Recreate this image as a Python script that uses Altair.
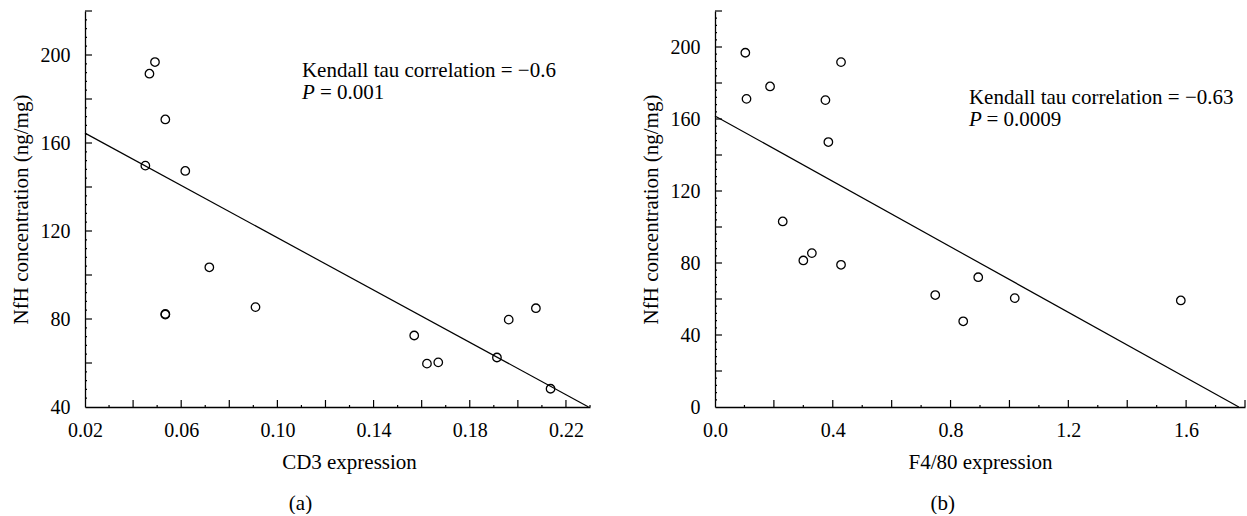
import altair as alt
import pandas as pd

FONT = "Liberation Serif"

# ---- Panel (a): CD3 expression vs NfH concentration ----
cd3_expr = [0.0451, 0.0468, 0.0491, 0.0534, 0.0534, 0.0534, 0.0617, 0.0717,
            0.0909, 0.1569, 0.1622, 0.1669, 0.1913, 0.1962, 0.2075, 0.2136]
cd3_nfh = [149.7, 191.5, 196.8, 170.7, 82.0, 82.3, 147.3, 103.5,
           85.4, 72.5, 59.7, 60.3, 62.5, 79.7, 84.9, 48.3]
fit_a_x = [0.02, 0.2294]
fit_a_y = [164.5, 40.0]

# ---- Panel (b): F4/80 expression vs NfH concentration ----
f480_expr = [0.103, 0.107, 0.187, 0.230, 0.300, 0.329, 0.375, 0.385,
             0.428, 0.428, 0.748, 0.843, 0.894, 1.018, 1.582]
f480_nfh = [196.8, 171.2, 178.1, 103.1, 81.4, 85.5, 170.5, 147.2,
            191.6, 79.0, 62.2, 47.6, 72.1, 60.5, 59.2]
fit_b_x = [0.0, 1.779]
fit_b_y = [161.7, 0.0]

# ---- axis tick values ----
x_labels_a = [0.02, 0.06, 0.10, 0.14, 0.18, 0.22]
y_labels_a = [40, 80, 120, 160, 200]
x_major_a = [0.04, 0.06, 0.08, 0.10, 0.12, 0.14, 0.16, 0.18, 0.20, 0.22]
x_minor_a = [0.03, 0.05, 0.07, 0.09, 0.11, 0.13, 0.15, 0.17, 0.19, 0.21, 0.23]
y_major_a = [60, 80, 100, 120, 140, 160, 180, 200, 220]
y_minor_a = [v for v in range(44, 220, 4) if v % 20 != 0]

x_labels_b = [0.0, 0.4, 0.8, 1.2, 1.6]
y_labels_b = [0, 40, 80, 120, 160, 200]
x_major_b = [0.2, 0.4, 0.6, 0.8, 1.0, 1.2, 1.4, 1.6, 1.8]
x_minor_b = [0.1, 0.3, 0.5, 0.7, 0.9, 1.1, 1.3, 1.5, 1.7]
y_major_b = [20, 40, 60, 80, 100, 120, 140, 160, 180, 200, 220]
y_minor_b = [v for v in range(4, 220, 4) if v % 20 != 0]

# ---- annotations (anchored in data coordinates) ----
ann_a_x = [0.1102, 0.1102, 0.1177]
ann_a_y = [190.2, 179.9, 179.9]
ann_a_text = ["Kendall tau correlation = \u22120.6", "P", "= 0.001"]
ann_b_x = [0.8625, 0.8625, 0.9220]
ann_b_y = [168.6, 155.9, 155.9]
ann_b_text = ["Kendall tau correlation = \u22120.63", "P", "= 0.0009"]
ann_style = ["normal", "italic", "normal"]

W_A, W_B, H = 505, 530, 396


def panel(xs_vals, ys_vals, fx, fy, xdom, ydom, xlabels, ylabels, xfmt,
          xmaj, xmin, ymaj, ymin, ann_x, ann_y, ann_text, xtitle, caption,
          width, title_x):
    xs = alt.Scale(domain=xdom, zero=False, nice=False)
    ys = alt.Scale(domain=ydom, zero=False, nice=False)
    common = dict(ticks=False, grid=False, domainColor="black", domainWidth=1.3,
                  labelFont=FONT, labelFontSize=20, labelColor="black",
                  labelFlush=False, labelOverlap=False, labelBound=False,
                  titleFont=FONT, titleFontSize=21, titleFontWeight="normal",
                  titleColor="black", titleBaseline="alphabetic")
    xaxis = alt.Axis(values=xlabels, format=xfmt, title=xtitle, labelPadding=13,
                     titleY=61.6, titleX=title_x, **common)
    yaxis = alt.Axis(values=ylabels, format="d", title="NfH concentration (ng/mg)",
                     labelPadding=15, titleX=-58, titleAngle=-90, **common)

    pts = alt.Chart(pd.DataFrame({"x": xs_vals, "y": ys_vals})).mark_point(
        shape="circle", filled=False, color="black", size=72, strokeWidth=1.3, opacity=1
    ).encode(x=alt.X("x:Q", scale=xs, axis=xaxis), y=alt.Y("y:Q", scale=ys, axis=yaxis))

    fit = alt.Chart(pd.DataFrame({"x": fx, "y": fy})).mark_line(
        color="black", strokeWidth=1.2
    ).encode(x=alt.X("x:Q", scale=xs), y=alt.Y("y:Q", scale=ys))

    def xticks(vals, length):
        return alt.Chart(pd.DataFrame({"x": vals})).mark_rule(
            color="black", strokeWidth=1.2
        ).encode(x=alt.X("x:Q", scale=xs),
                 y=alt.value(H), y2=alt.value(H - length))

    def yticks(vals, length):
        return alt.Chart(pd.DataFrame({"y": vals})).mark_rule(
            color="black", strokeWidth=1.2
        ).encode(y=alt.Y("y:Q", scale=ys),
                 x=alt.value(0), x2=alt.value(length))

    texts = []
    for tx, ty, tt, st in zip(ann_x, ann_y, ann_text, ann_style):
        texts.append(
            alt.Chart(pd.DataFrame({"x": [tx], "y": [ty], "t": [tt]})).mark_text(
                align="left", baseline="alphabetic", font=FONT, fontSize=21,
                color="black", fontStyle=st
            ).encode(x=alt.X("x:Q", scale=xs), y=alt.Y("y:Q", scale=ys), text="t:N")
        )

    return alt.layer(
        pts, fit, xticks(xmin, 2), xticks(xmaj, 7), yticks(ymin, 2), yticks(ymaj, 7),
        *texts
    ).properties(
        width=width, height=H,
        title=alt.TitleParams(text=caption, orient="bottom", anchor="middle",
                              frame="bounds", font=FONT, fontSize=21,
                              fontWeight="normal", color="black", offset=20)
    )


left = panel(cd3_expr, cd3_nfh, fit_a_x, fit_a_y, [0.02, 0.23], [40, 220],
             x_labels_a, y_labels_a, ".2f", x_major_a, x_minor_a, y_major_a, y_minor_a,
             ann_a_x, ann_a_y, ann_a_text, "CD3 expression", "(a)", W_A, 264)
right = panel(f480_expr, f480_nfh, fit_b_x, fit_b_y, [0.0, 1.8], [0, 220],
              x_labels_b, y_labels_b, ".1f", x_major_b, x_minor_b, y_major_b, y_minor_b,
              ann_b_x, ann_b_y, ann_b_text, "F4/80 expression", "(b)", W_B, 265)

chart = alt.hconcat(left, right, spacing=125, bounds="flush").configure_view(
    stroke=None
).properties(
    padding={"left": 10, "top": 10, "right": 0, "bottom": 0},
    background="white"
)

chart.save("out.html", embed_options={"renderer": "svg", "actions": False})
